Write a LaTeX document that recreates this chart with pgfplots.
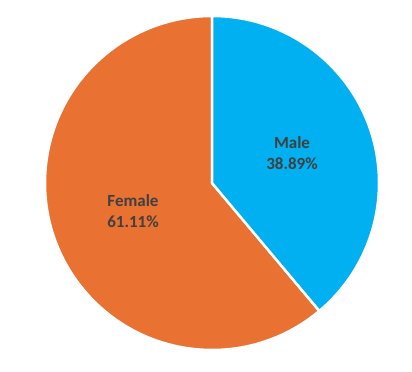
\documentclass[border=0pt]{standalone}
\usepackage{pgfplots}
\usepackage{pgfplotstable}
\pgfplotsset{compat=1.18}
\usepackage{fontspec}
\setmainfont{Carlito}
\definecolor{maleblue}{HTML}{00B0F0}
\definecolor{femorange}{HTML}{E97132}
\definecolor{labgray}{HTML}{404040}
\pgfplotstableread{
label value
Male 38.89
Female 61.11
}\piedata
\begin{document}
\begin{tikzpicture}
\pgfplotstablegetelem{0}{value}\of\piedata \let\vmale\pgfplotsretval
\pgfplotstablegetelem{1}{value}\of\piedata \let\vfemale\pgfplotsretval
\pgfmathsetmacro\mend{90-360*\vmale/(\vmale+\vfemale)}
\begin{axis}[
  scale only axis, width=412bp, height=355bp,
  xmin=-1.26946, xmax=1.19760, ymin=-1.02994, ymax=1.09581,
  hide axis, clip=false]
\path (rel axis cs:0,0) rectangle (rel axis cs:1,1);
\fill[femorange, draw=white, line width=2.5bp] (axis cs:0,0) -- ++(\mend:167bp) arc[start angle=\mend, end angle=-270, radius=167bp] -- cycle;
\fill[maleblue, draw=white, line width=2.5bp] (axis cs:0,0) -- ++(90:167bp) arc[start angle=90, end angle=\mend, radius=167bp] -- cycle;
\node[text=labgray, font=\bfseries\fontsize{17bp}{21bp}\selectfont, align=center] at (axis cs:0.479,0.180) {Male\\38.89\%};
\node[text=labgray, font=\bfseries\fontsize{17bp}{21bp}\selectfont, align=center] at (axis cs:-0.473,-0.168) {Female\\61.11\%};
\end{axis}
\end{tikzpicture}
\end{document}
